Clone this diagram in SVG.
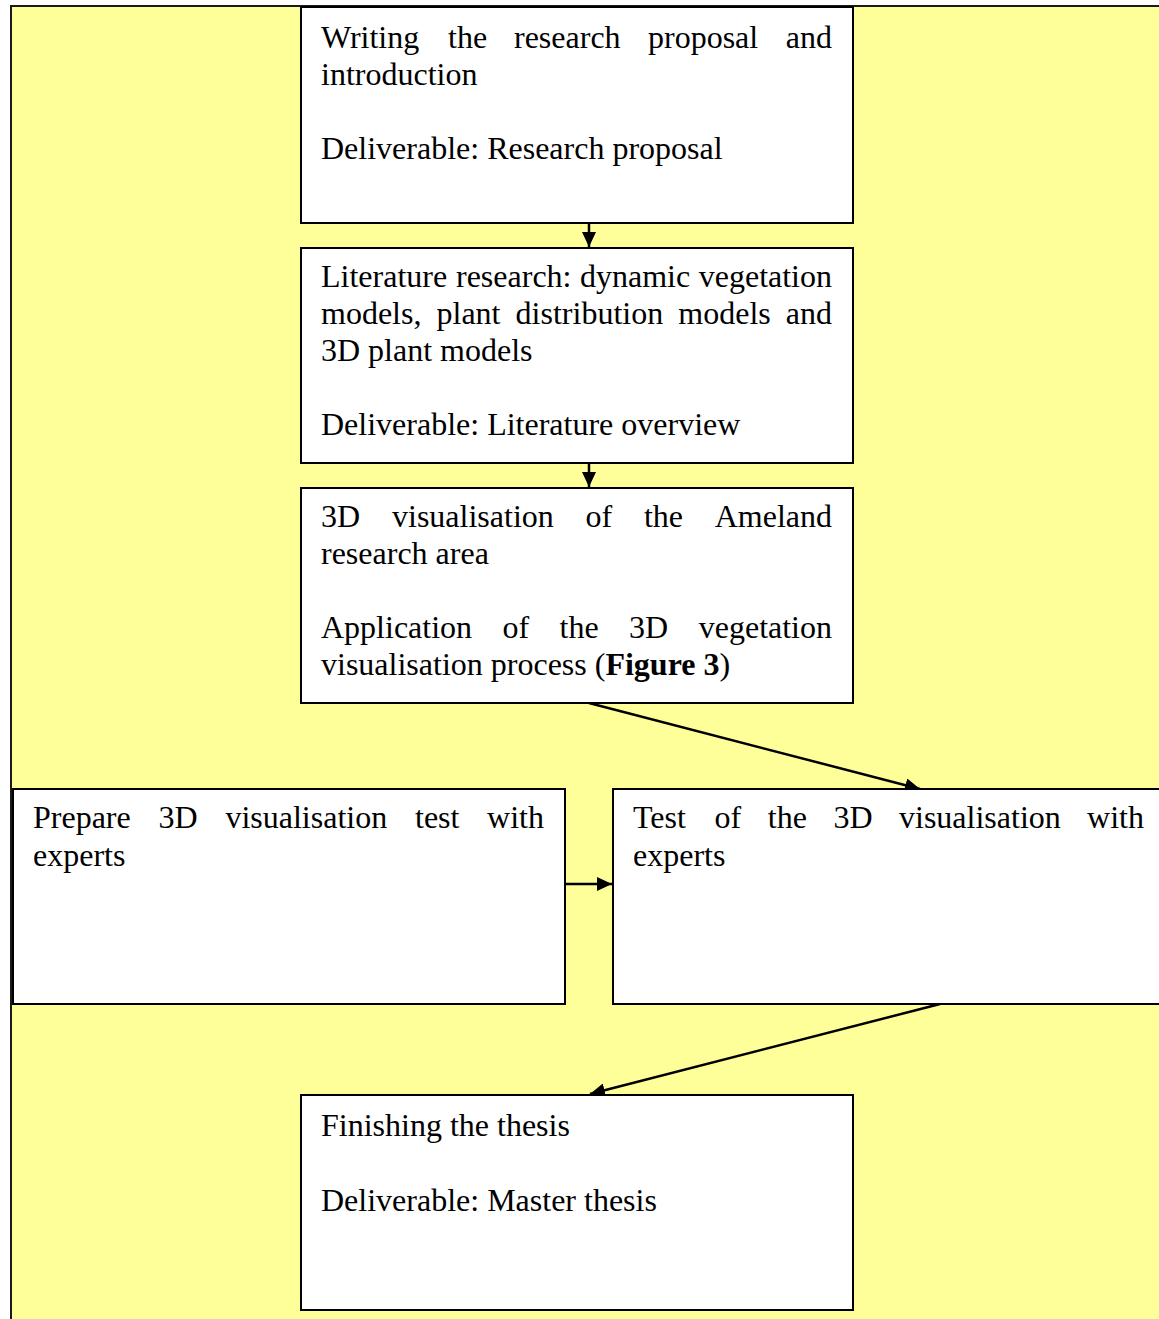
<svg xmlns="http://www.w3.org/2000/svg" width="1159" height="1319" viewBox="0 0 1159 1319">
  <style>
    .bg { fill: #FFFF99; stroke: #1a1a1a; stroke-width: 2; }
    .box { fill: #FFFFFF; stroke: #000000; stroke-width: 2; }
    .t { font-family: "Liberation Serif", "Times New Roman", serif; font-size: 32px; fill: #000000; }
    .b { font-weight: bold; }
    .conn { stroke: #000000; stroke-width: 2.5; fill: none; marker-end: url(#arrow); }
  </style>
  <defs>
    <marker id="arrow" markerUnits="userSpaceOnUse" markerWidth="16" markerHeight="14" refX="15" refY="7" orient="auto">
      <path d="M0,0 L15,7 L0,14 z" fill="#000000"/>
    </marker>
  </defs>

  <!-- page background -->
  <rect width="1159" height="1319" fill="#FFFFFF"/>
  <rect class="bg" x="11" y="6" width="1160" height="1330"/>

  <!-- connectors -->
  <g id="connectors">
    <line class="conn" x1="589" y1="223" x2="589" y2="247"/>
    <line class="conn" x1="589" y1="463" x2="589" y2="487"/>
    <line class="conn" x1="589" y1="703" x2="920" y2="789"/>
    <line class="conn" x1="565" y1="884" x2="612" y2="884"/>
    <line class="conn" x1="940" y1="1004" x2="590" y2="1094"/>
  </g>

  <!-- step 1 -->
  <g id="proposal">
    <rect class="box" x="301" y="7" width="552" height="216"/>
    <text class="t" y="48"><tspan x="321">Writing</tspan><tspan x="448">the</tspan><tspan x="514">research</tspan><tspan x="648">proposal</tspan><tspan x="832" text-anchor="end">and</tspan></text>
    <text class="t" x="321" y="85">introduction</text>
    <text class="t" x="321" y="159">Deliverable: Research proposal</text>
  </g>

  <!-- step 2 -->
  <g id="literature">
    <rect class="box" x="301" y="248" width="552" height="215"/>
    <text class="t" y="287"><tspan x="321">Literature</tspan><tspan x="456">research:</tspan><tspan x="580">dynamic</tspan><tspan x="832" text-anchor="end">vegetation</tspan></text>
    <text class="t" y="324"><tspan x="321">models,</tspan><tspan x="436.5">plant</tspan><tspan x="515.6">distribution</tspan><tspan x="678.3">models</tspan><tspan x="832" text-anchor="end">and</tspan></text>
    <text class="t" x="321" y="361">3D plant models</text>
    <text class="t" x="321" y="435">Deliverable: Literature overview</text>
  </g>

  <!-- step 3 -->
  <g id="visualisation">
    <rect class="box" x="301" y="488" width="552" height="215"/>
    <text class="t" y="527"><tspan x="321">3D</tspan><tspan x="392">visualisation</tspan><tspan x="585.4">of</tspan><tspan x="643.9">the</tspan><tspan x="832" text-anchor="end">Ameland</tspan></text>
    <text class="t" x="321" y="564">research area</text>
    <text class="t" y="638"><tspan x="321">Application</tspan><tspan x="502.5">of</tspan><tspan x="559.6">the</tspan><tspan x="629.1">3D</tspan><tspan x="832" text-anchor="end">vegetation</tspan></text>
    <text class="t" x="321" y="675">visualisation process (<tspan class="b">Figure 3</tspan>)</text>
  </g>

  <!-- step 4a -->
  <g id="prepare-test">
    <rect class="box" x="13" y="789" width="552" height="215"/>
    <text class="t" y="828"><tspan x="33">Prepare</tspan><tspan x="158.5">3D</tspan><tspan x="225.4">visualisation</tspan><tspan x="415">test</tspan><tspan x="544" text-anchor="end">with</tspan></text>
    <text class="t" x="33" y="866">experts</text>
  </g>

  <!-- step 4b -->
  <g id="expert-test">
    <rect class="box" x="613" y="789" width="560" height="215"/>
    <text class="t" y="828"><tspan x="633">Test</tspan><tspan x="714.6">of</tspan><tspan x="767.8">the</tspan><tspan x="833.4">3D</tspan><tspan x="899">visualisation</tspan><tspan x="1144" text-anchor="end">with</tspan></text>
    <text class="t" x="633" y="866">experts</text>
  </g>

  <!-- step 5 -->
  <g id="thesis">
    <rect class="box" x="301" y="1095" width="552" height="215"/>
    <text class="t" x="321" y="1136">Finishing the thesis</text>
    <text class="t" x="321" y="1211">Deliverable: Master thesis</text>
  </g>
</svg>
